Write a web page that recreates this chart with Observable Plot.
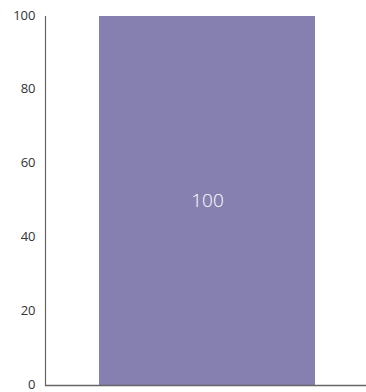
<!DOCTYPE html>
<html>
<head>
<meta charset="utf-8">
<script src="https://cdn.jsdelivr.net/npm/d3@7"></script>
<script src="https://cdn.jsdelivr.net/npm/@observablehq/plot@0.6"></script>
<style>
  html, body { margin: 0; padding: 0; background: #fff; }
  #chart svg { display: block; }
</style>
</head>
<body>
<div id="chart"></div>
<script>
const categories = ["A"];
const values = [100];
const yTicks = [0, 20, 40, 60, 80, 100];

const data = categories.map((c, i) => ({category: c, value: values[i]}));

const chart = Plot.plot({
  width: 366,
  height: 392,
  marginTop: 16,
  marginBottom: 7,
  marginLeft: 45,
  marginRight: 0,
  style: {fontFamily: "'Open Sans', sans-serif", fontSize: "13px", color: "#333", background: "#fff"},
  x: {domain: categories, padding: 0.19, axis: null},
  y: {domain: [0, 100], ticks: yTicks, label: null},
  marks: [
    Plot.barY(data, {x: "category", y: "value", fill: "#8680b0", insetLeft: 2, insetRight: 0}),
    Plot.axisY({ticks: yTicks, tickSize: 0, tickPadding: 10, label: null, fontSize: 13, fill: "#333", dy: -1}),
    Plot.frame({anchor: "left", stroke: "#666", strokeWidth: 1.2}),
    Plot.ruleY([0], {stroke: "#666", strokeWidth: 1.5}),
    Plot.text(data, {x: "category", y: d => d.value / 2, text: d => String(d.value), fill: "#fff", fontSize: 19, fontWeight: 300, dx: 1})
  ]
});
document.getElementById("chart").appendChild(chart);
</script>
</body>
</html>
